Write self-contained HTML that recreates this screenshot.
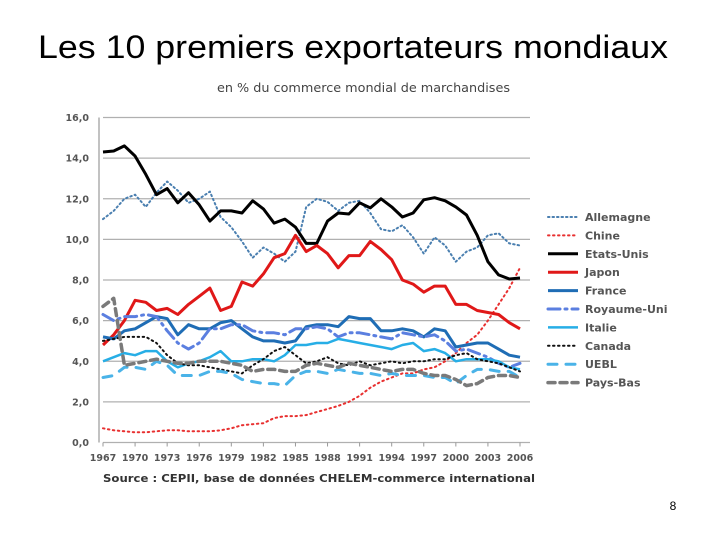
<!DOCTYPE html>
<html><head><meta charset="utf-8"><style>
body{margin:0;background:#fff;font-family:"Liberation Sans",sans-serif}
#wrap{position:relative;width:720px;height:540px;overflow:hidden}
</style></head><body>
<div id="wrap">
<svg id="chart" width="720" height="540"></svg>
</div>
<script>
const years=[];for(let y=1967;y<=2006;y++)years.push(y);
const yTicks=[0,2,4,6,8,10,12,14,16];
const xTickYears=[1967,1970,1973,1976,1979,1982,1985,1988,1991,1994,1997,2000,2003,2006];
const allemagne=[11.0,11.4,12.0,12.2,11.6,12.3,12.85,12.4,11.8,12.0,12.35,11.1,10.6,9.9,9.1,9.6,9.3,8.9,9.4,11.6,12.0,11.85,11.4,11.8,11.9,11.3,10.5,10.4,10.7,10.1,9.3,10.1,9.7,8.9,9.4,9.6,10.2,10.3,9.8,9.7];
const chine=[0.7,0.6,0.55,0.5,0.5,0.55,0.6,0.6,0.55,0.55,0.55,0.6,0.7,0.85,0.9,0.95,1.2,1.3,1.3,1.35,1.5,1.65,1.8,2.0,2.3,2.7,3.0,3.2,3.4,3.4,3.6,3.7,4.0,4.4,4.9,5.3,6.0,6.8,7.6,8.6];
const etatsUnis=[14.3,14.35,14.6,14.1,13.2,12.2,12.5,11.8,12.3,11.7,10.9,11.4,11.4,11.3,11.9,11.5,10.8,11.0,10.6,9.8,9.8,10.9,11.3,11.25,11.8,11.55,12.0,11.6,11.1,11.3,11.95,12.05,11.9,11.6,11.2,10.2,8.9,8.25,8.05,8.1];
const japon=[4.8,5.3,6.0,7.0,6.9,6.5,6.6,6.3,6.8,7.2,7.6,6.5,6.7,7.9,7.7,8.3,9.1,9.3,10.2,9.4,9.7,9.3,8.6,9.2,9.2,9.9,9.5,9.0,8.0,7.8,7.4,7.7,7.7,6.8,6.8,6.5,6.4,6.3,5.9,5.6];
const france=[5.2,5.1,5.5,5.6,5.9,6.2,6.1,5.3,5.8,5.6,5.6,5.9,6.0,5.6,5.2,5.0,5.0,4.9,5.0,5.7,5.8,5.8,5.7,6.2,6.1,6.1,5.5,5.5,5.6,5.5,5.2,5.6,5.5,4.7,4.8,4.9,4.9,4.6,4.3,4.2];
const royaumeUni=[6.3,6.0,6.2,6.2,6.3,6.2,5.5,4.9,4.6,4.9,5.6,5.6,5.8,5.8,5.5,5.4,5.4,5.3,5.6,5.6,5.7,5.6,5.2,5.4,5.4,5.3,5.2,5.1,5.4,5.3,5.2,5.3,5.0,4.5,4.6,4.4,4.2,3.9,3.7,3.9];
const italie=[4.0,4.2,4.4,4.3,4.5,4.5,4.0,3.7,3.9,4.0,4.2,4.5,4.0,4.0,4.1,4.1,4.0,4.3,4.8,4.8,4.9,4.9,5.1,5.0,4.9,4.8,4.7,4.6,4.8,4.9,4.5,4.6,4.4,4.0,4.1,4.1,4.1,4.0,3.7,3.6];
const canada=[5.0,5.1,5.2,5.2,5.2,4.9,4.3,3.9,3.8,3.8,3.7,3.6,3.5,3.4,3.8,4.1,4.5,4.7,4.3,3.9,4.0,4.2,3.9,3.8,4.0,3.8,3.9,4.0,3.9,4.0,4.0,4.1,4.1,4.3,4.4,4.1,4.0,3.9,3.7,3.5];
const uebl=[3.2,3.3,3.7,3.7,3.6,4.0,3.8,3.3,3.3,3.3,3.5,3.5,3.4,3.1,3.0,2.9,2.9,2.8,3.3,3.5,3.5,3.4,3.6,3.5,3.4,3.4,3.3,3.4,3.3,3.3,3.3,3.2,3.2,2.9,3.3,3.6,3.6,3.5,3.5,3.2];
const paysBas=[6.7,7.1,3.8,3.9,4.0,4.1,4.0,3.9,3.9,4.0,4.0,4.0,3.9,3.8,3.5,3.6,3.6,3.5,3.5,3.8,3.9,3.8,3.7,3.9,3.8,3.7,3.6,3.5,3.6,3.6,3.4,3.3,3.3,3.1,2.8,2.9,3.2,3.3,3.3,3.2];
const seriesNames=["Allemagne","Chine","Etats-Unis","Japon","France","Royaume-Uni","Italie","Canada","UEBL","Pays-Bas"];
const seriesData=[allemagne,chine,etatsUnis,japon,france,royaumeUni,italie,canada,uebl,paysBas];
const styles=[
 {c:"#4a7fb0",w:2,d:"1.5 3",cap:"round"},
 {c:"#e83030",w:2,d:"1.5 3.5",cap:"round"},
 {c:"#000000",w:3,d:"",cap:"butt"},
 {c:"#e01818",w:3,d:"",cap:"butt"},
 {c:"#1f6db5",w:3,d:"",cap:"butt"},
 {c:"#5b7fe0",w:3,d:"12 5 2 5",cap:"round"},
 {c:"#27aee6",w:2.5,d:"",cap:"butt"},
 {c:"#111111",w:2,d:"1.5 3.5",cap:"round"},
 {c:"#4ab3e8",w:3,d:"9 9",cap:"round"},
 {c:"#7a7a7a",w:3.5,d:"7 5",cap:"round"}];
const X0=103,X1=520,Y0=442.5,Y1=117.5;
const xs=y=>X0+(y-1967)*(X1-X0)/39;
const ys=v=>Y0+(v-0)*(Y1-Y0)/16;
const NS="http://www.w3.org/2000/svg";
const svg=document.getElementById('chart');
function mk(tag,attrs,parent){const e=document.createElementNS(NS,tag);for(const k in attrs)e.setAttribute(k,attrs[k]);(parent||svg).appendChild(e);return e;}
const SMALL='"DejaVu Sans", "Liberation Sans", sans-serif';
let t=mk('text',{x:38,y:58,'font-size':32,fill:'#000',textLength:630,lengthAdjust:'spacingAndGlyphs'});t.textContent="Les 10 premiers exportateurs mondiaux";


t=mk('text',{x:217,y:92,'font-size':12.5,fill:'#444','font-family':SMALL,textLength:293,lengthAdjust:'spacingAndGlyphs'});t.textContent="en % du commerce mondial de marchandises";


yTicks.forEach(v=>{
 const g=mk('line',{x1:X0,x2:530,y1:ys(v),y2:ys(v),stroke:'#b0b0b0','stroke-width':1.2});
 
 
 const l=mk('text',{x:89,y:ys(v)+3.5,'text-anchor':'end','font-size':9.5,'font-weight':'bold',fill:'#555','font-family':SMALL});l.textContent=v.toFixed(1).replace('.',',');
 
 
});
let ax=mk('line',{x1:X0-4,x2:X0-4,y1:Y1,y2:Y0,stroke:'#999','stroke-width':1.2});


xTickYears.forEach(y=>{
 const tk=mk('line',{x1:xs(y),x2:xs(y),y1:Y0,y2:Y0+4,stroke:'#999'});
 
 
 const l=mk('text',{x:xs(y),y:461,'text-anchor':'middle','font-size':9.5,'font-weight':'bold',fill:'#555','font-family':SMALL});l.textContent=y;
 
 
});
seriesData.forEach((arr,i)=>{
 const s=styles[i];
 const p=mk('path',{d:arr.map((v,j)=>(j?'L':'M')+xs(years[j]).toFixed(1)+','+ys(v).toFixed(1)).join(''),fill:'none',stroke:s.c,'stroke-width':s.w,'stroke-dasharray':s.d,'stroke-linecap':s.cap,'stroke-linejoin':'round'});
 
 
 const ly=217+i*18.4;
 const ll=mk('line',{x1:548,x2:578,y1:ly,y2:ly,stroke:s.c,'stroke-width':s.w,'stroke-dasharray':s.d,'stroke-linecap':s.cap});
 
 
 const lt=mk('text',{x:585,y:ly+4,'font-size':11,'font-weight':'bold',fill:'#555','font-family':SMALL});lt.textContent=seriesNames[i];
 
 
});
t=mk('text',{x:103,y:482,'font-size':11,'font-weight':'bold',fill:'#333','font-family':SMALL,textLength:432,lengthAdjust:'spacingAndGlyphs'});t.textContent="Source : CEPII, base de données CHELEM-commerce international";


t=mk('text',{x:673,y:510,'text-anchor':'middle','font-size':12,fill:'#000'});t.textContent="8";


</script>
</body></html>
